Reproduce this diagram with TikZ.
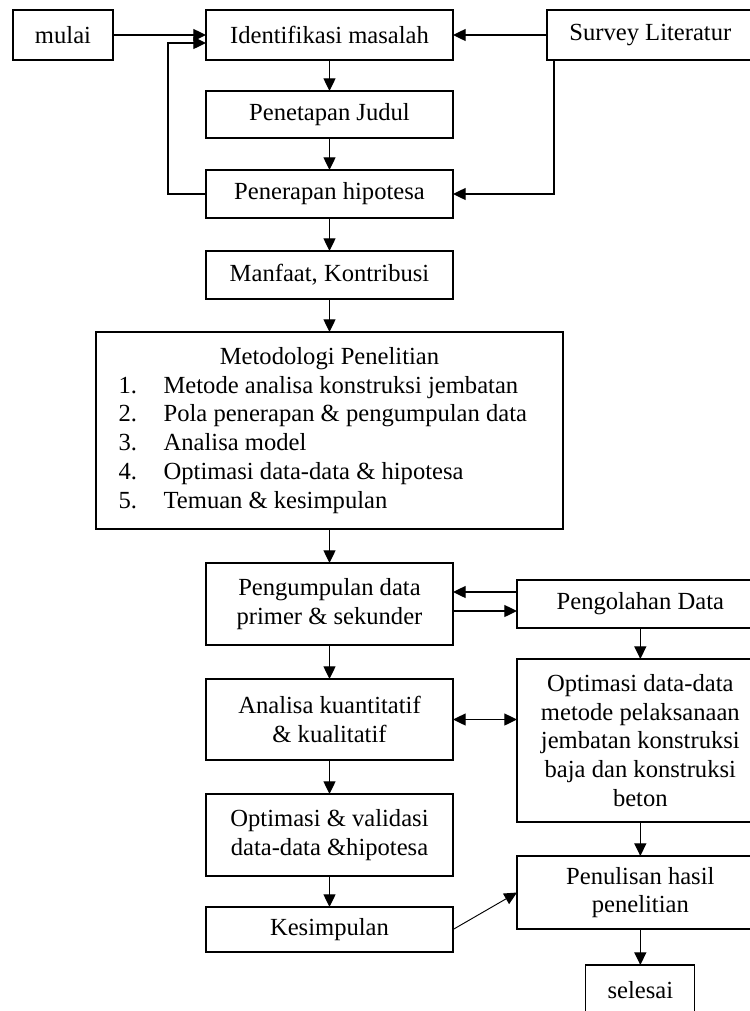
\documentclass[tikz,border=0pt]{standalone}
\usepackage{fontspec}
\setmainfont{Liberation Serif}
\usetikzlibrary{arrows.meta, positioning}

\begin{document}
\begin{tikzpicture}[
    % Define styles
    plain/.style={rectangle, draw=black, line width=1pt, outer sep=0pt, minimum width=7.41cm, minimum height=1.44cm, inner sep=2pt, font=\fontsize{21}{24.5}\selectfont},
    box/.style={plain, align=center},
    sidebox/.style={box, minimum width=7.4cm},
    arrow/.style={-{Triangle[length=0.38cm, width=0.36cm]}, line width=1.1pt},
    darrow/.style={arrow, {Triangle[length=0.38cm, width=0.36cm]}-{Triangle[length=0.38cm, width=0.36cm]}},
    ]
    \useasboundingbox (0,0) rectangle (22.5,-30.33);

    % Top row
    \node[plain, minimum height=1.5cm] (ident) at (9.885,-1.05) {Identifikasi masalah};
    \node[plain, minimum width=3cm, minimum height=1.5cm, left=2.79cm of ident] (mulai) {mulai};
    \node[plain, minimum width=6.2cm, minimum height=1.5cm, right=2.82cm of ident] (survey) {Survey Literatur};

    % Main column
    \node[plain, minimum height=1.41cm, below=0.93cm of ident] (judul) {Penetapan Judul};
    \node[plain, below=0.96cm of judul] (hipotesa) {Penerapan hipotesa};
    \node[plain, below=0.99cm of hipotesa] (manfaat) {Manfaat, Kontribusi};
    \node[box, minimum width=14.01cm, minimum height=5.91cm, below=0.99cm of manfaat] (metode) {%
        \begin{tabular}{@{}p{1.35cm}@{}l@{\hspace{0.4cm}}}
            \multicolumn{2}{c}{Metodologi Penelitian}\\
            1. & Metode analisa konstruksi jembatan\\
            2. & Pola penerapan \& pengumpulan data\\
            3. & Analisa model\\
            4. & Optimasi data-data \& hipotesa\\
            5. & Temuan \& kesimpulan
        \end{tabular}};
    \node[box, minimum height=2.46cm, below=1.02cm of metode] (kumpul) {Pengumpulan data\\primer \& sekunder};
    \node[box, minimum height=2.43cm, below=1.02cm of kumpul] (analisa) {Analisa kuantitatif\\\& kualitatif};
    \node[box, minimum height=2.46cm, below=1.02cm of analisa] (validasi) {Optimasi \& validasi\\data-data \&hipotesa};
    \node[plain, minimum height=1.35cm, below=0.93cm of validasi] (simpul) {Kesimpulan};

    % Right column
    \node[plain, minimum width=7.4cm, right=1.92cm of kumpul] (olah) {Pengolahan Data};
    \node[sidebox, minimum height=4.89cm, below=0.93cm of olah] (optdata) {Optimasi data-data\\metode pelaksanaan\\jembatan konstruksi\\baja dan konstruksi\\beton};
    \node[sidebox, minimum height=2.19cm, below=1.02cm of optdata] (tulis) {Penulisan hasil\\penelitian};
    \node[plain, minimum width=3.27cm, minimum height=1.5cm, below=1.08cm of tulis] (selesai) {selesai};

    % Arrows
    \draw[arrow] (mulai) -- (ident);
    \draw[arrow] (survey) -- (ident);
    \draw[arrow] (ident) -- (judul);
    \draw[arrow] (judul) -- (hipotesa);
    \draw[arrow] (hipotesa.west) -- ++(-1.14,0) |- ([yshift=-0.24cm]ident.west);
    \draw[arrow] ([xshift=0.21cm]survey.south west) |- (hipotesa.east);
    \draw[arrow] (hipotesa) -- (manfaat);
    \draw[arrow] (manfaat) -- (metode);
    \draw[arrow] (metode) -- (kumpul);

    \draw[arrow] ([yshift=0.36cm]olah.west) -- ([yshift=0.36cm]olah.west -| kumpul.east);
    \draw[arrow] ([yshift=-0.21cm]kumpul.east) -- ([yshift=-0.21cm]kumpul.east -| olah.west);
    \draw[arrow] (kumpul) -- (analisa);
    \draw[arrow] (olah) -- (optdata);
    \draw[darrow] (analisa.east) -- (analisa.east -| optdata.west);
    \draw[arrow] (analisa) -- (validasi);
    \draw[arrow] (validasi) -- (simpul);
    \draw[arrow] (optdata) -- (tulis);
    \draw[arrow, line width=0.8pt] (simpul.east) -- (tulis.west);
    \draw[arrow] (tulis) -- (selesai);

\end{tikzpicture}
\end{document}
